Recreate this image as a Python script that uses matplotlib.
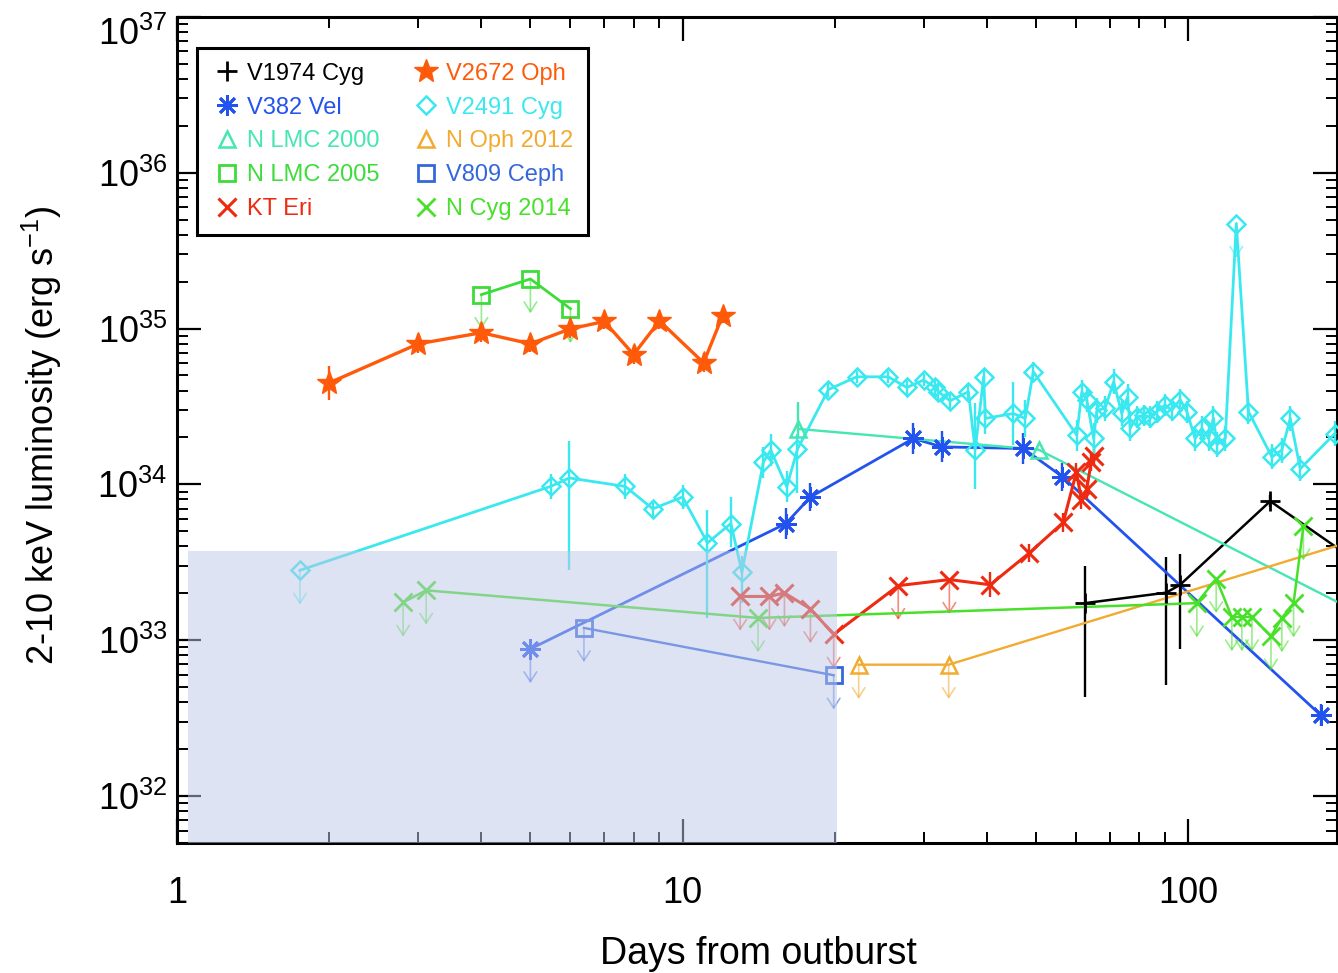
import numpy as np
import matplotlib.pyplot as plt
from matplotlib.lines import Line2D
from matplotlib.patches import Rectangle

plt.rcParams['font.family'] = ['Liberation Sans', 'DejaVu Sans']
plt.rcParams['mathtext.fontset'] = 'custom'
plt.rcParams['mathtext.rm'] = 'Liberation Sans'
plt.rcParams['mathtext.it'] = 'Liberation Sans:italic'

# ---- data (days from outburst, 2-10 keV luminosity in erg/s) ----
# errors are in dex (up, down); ul = upper limit
v1974_days = [62.5, 90.5, 96.4, 145.3, 250]
v1974_lum = [1.73e33, 2.02e33, 2.27e33, 7.8e33, 2.29e33]
v1974_up = [0.24, 0.23, 0.20, 0.04, 0.0]
v1974_dn = [0.60, 0.59, 0.41, 0.04, 0.0]
v1974_ul = [0, 0, 0, 0, 0]

v382_days = [5.0, 16.0, 17.9, 28.6, 32.6, 47.2, 56.4, 183]
v382_lum = [8.8e32, 5.6e33, 8.3e33, 1.97e34, 1.74e34, 1.7e34, 1.12e34, 3.3e32]
v382_up = [0, 0.10, 0.09, 0.10, 0.10, 0.10, 0.09, 0.07]
v382_dn = [0, 0.10, 0.09, 0.10, 0.10, 0.10, 0.09, 0.07]
v382_ul = [1, 0, 0, 0, 0, 0, 0, 0]

nlmc00_days = [16.9, 50.6, 300]
nlmc00_lum = [2.27e34, 1.67e34, 8.8e32]
nlmc00_up = [0.17, 0.0, 0.0]
nlmc00_dn = [0.05, 0.0, 0.0]
nlmc00_ul = [0, 0, 0]

nlmc05_days = [4, 5, 6]
nlmc05_lum = [1.65e35, 2.08e35, 1.34e35]
nlmc05_up = [0, 0, 0]
nlmc05_dn = [0, 0, 0]
nlmc05_ul = [1, 1, 1]

kteri_days = [13.0, 14.85, 15.9, 17.9, 19.9, 26.7, 33.7, 40.6, 48.5, 56.6,
              60.1, 61.5, 63.0, 64.3, 65.0]
kteri_lum = [1.91e33, 1.91e33, 2.01e33, 1.59e33, 1.09e33, 2.24e33, 2.45e33,
             2.27e33, 3.63e33, 5.7e33, 1.2e34, 7.98e33, 9.3e33, 1.4e34, 1.51e34]
kteri_up = [0, 0, 0, 0, 0, 0, 0, 0.08, 0.06, 0.06, 0.06, 0.06, 0.06, 0.06, 0.06]
kteri_dn = [0, 0, 0, 0, 0, 0, 0, 0.08, 0.06, 0.06, 0.06, 0.06, 0.06, 0.06, 0.06]
kteri_ul = [1, 1, 1, 1, 1, 1, 1, 0, 0, 0, 0, 0, 0, 0, 0]

v2672_days = [2, 3, 4, 5, 6, 7, 8, 9, 11, 12]
v2672_lum = [4.48e34, 7.98e34, 9.4e34, 7.98e34, 9.96e34, 1.11e35, 6.81e34,
             1.12e35, 6.03e34, 1.21e35]
v2672_up = [0.11, 0.06, 0.06, 0.05, 0.06, 0.05, 0.06, 0.05, 0.06, 0.05]
v2672_dn = [0.11, 0.06, 0.06, 0.05, 0.06, 0.05, 0.06, 0.05, 0.06, 0.05]
v2672_ul = [0] * 10

v2491_days = [1.75, 5.49, 5.97, 7.70, 8.73, 10.0, 11.2, 12.46, 13.1, 14.45,
              14.94, 16.07, 16.87, 19.43, 22.1, 25.5, 27.77, 29.96, 31.6, 32.07,
              33.8, 36.76, 37.9, 39.4, 39.7, 45.1, 47.6, 49.4, 60.2, 61.6,
              63.0, 65.0, 66.0, 68.5, 71.2, 73.9, 75.9, 76.8, 79.1, 81.6,
              84.1, 86.7, 90.0, 92.8, 96.4, 99.4, 103.2, 106.4, 109.7, 112.2,
              114.0, 118.4, 124.5, 131.6, 146.4, 153.2, 159.2, 166.6, 195.0]
v2491_lum = [2.81e33, 9.72e33, 1.10e34, 9.7e33, 6.97e33, 8.3e33, 4.21e33, 5.61e33, 2.74e33, 1.39e34,
             1.66e34, 9.64e33, 1.68e34, 4.06e34, 4.9e34, 4.9e34, 4.19e34, 4.67e34, 4.19e34, 3.93e34,
             3.44e34, 3.93e34, 1.66e34, 4.9e34, 2.65e34, 2.85e34, 2.65e34, 5.28e34, 2.07e34, 3.91e34,
             3.5e34, 1.97e34, 2.99e34, 3.07e34, 4.55e34, 2.85e34, 3.65e34, 2.29e34, 2.71e34, 2.77e34,
             2.71e34, 2.93e34, 3.23e34, 2.99e34, 3.5e34, 2.93e34, 1.97e34, 2.29e34, 1.97e34, 2.65e34,
             1.8e34, 1.97e34, 4.72e35, 2.93e34, 1.5e34, 1.66e34, 2.65e34, 1.26e34, 2.12e34]
v2491_up = [0, 0.08, 0.24, 0.08, 0.05, 0.08, 0.21, 0.17, 0.10, 0.10,
            0.10, 0.10, 0.10, 0.05, 0.04, 0.04, 0.05, 0.04, 0.05, 0.05,
            0.05, 0.05, 0.30, 0.05, 0.10, 0.20, 0.12, 0.06, 0.10, 0.08,
            0.08, 0.10, 0.08, 0.08, 0.08, 0.08, 0.08, 0.08, 0.07, 0.07,
            0.07, 0.07, 0.07, 0.07, 0.07, 0.07, 0.08, 0.08, 0.08, 0.08,
            0.08, 0.08, 0, 0.08, 0.08, 0.08, 0.08, 0.08, 0.08]
v2491_dn = [0, 0.08, 0.59, 0.08, 0.05, 0.08, 0.48, 0.15, 0.20, 0.10,
            0.10, 0.10, 0.28, 0.05, 0.04, 0.04, 0.05, 0.04, 0.05, 0.05,
            0.05, 0.05, 0.25, 0.05, 0.10, 0.20, 0.12, 0.06, 0.10, 0.08,
            0.08, 0.10, 0.08, 0.08, 0.08, 0.08, 0.08, 0.08, 0.07, 0.07,
            0.07, 0.07, 0.07, 0.07, 0.07, 0.07, 0.08, 0.08, 0.08, 0.08,
            0.08, 0.08, 0, 0.08, 0.08, 0.08, 0.08, 0.08, 0.08]
v2491_ul = [1] + [0] * 51 + [1] + [0] * 6

noph_days = [22.3, 33.6, 300]
noph_lum = [6.97e32, 6.97e32, 6.13e33]
noph_up = [0, 0, 0]
noph_dn = [0, 0, 0]
noph_ul = [1, 1, 0]

v809_days = [6.38, 19.9]
v809_lum = [1.2e33, 5.96e32]
v809_up = [0, 0]
v809_dn = [0, 0]
v809_ul = [1, 1]

ncyg_days = [2.80, 3.11, 14.1, 104, 113.6, 122, 127.7, 133.7, 145.8, 153.2, 161.6, 169]
ncyg_lum = [1.75e33, 2.09e33, 1.39e33, 1.73e33, 2.48e33, 1.41e33, 1.41e33,
            1.41e33, 1.06e33, 1.39e33, 1.73e33, 5.4e33]
ncyg_up = [0] * 12
ncyg_dn = [0] * 12
ncyg_ul = [1] * 12

# shaded region: days and luminosity bounds
shade_days = [1.05, 20.2]
shade_lum_top = 3.73e33

y_ticks = [1e32, 1e33, 1e34, 1e35, 1e36, 1e37]
x_ticks = [1, 10, 100]
x_ticklabels = ['1', '10', '100']

ASTER = (8, 2, 0)

# name, days, lum, up, dn, ul, color, marker, ms, mew, filled, lw
series = [
    ('V1974 Cyg', v1974_days, v1974_lum, v1974_up, v1974_dn, v1974_ul, 'black', '+', 14, 2.0, False, 1.8),
    ('V382 Vel', v382_days, v382_lum, v382_up, v382_dn, v382_ul, '#2353ee', ASTER, 15, 2.0, False, 2.0),
    ('N LMC 2000', nlmc00_days, nlmc00_lum, nlmc00_up, nlmc00_dn, nlmc00_ul, '#45e6b2', '^', 11, 1.8, False, 1.7),
    ('N LMC 2005', nlmc05_days, nlmc05_lum, nlmc05_up, nlmc05_dn, nlmc05_ul, '#3ddc3a', 's', 11, 2.0, False, 2.0),
    ('KT Eri', kteri_days, kteri_lum, kteri_up, kteri_dn, kteri_ul, '#ee2a10', 'x', 13, 2.2, False, 2.2),
    ('V2672 Oph', v2672_days, v2672_lum, v2672_up, v2672_dn, v2672_ul, '#ff5a0a', '*', 18, 1.0, True, 2.4),
    ('V2491 Cyg', v2491_days, v2491_lum, v2491_up, v2491_dn, v2491_ul, '#3ae8f0', 'D', 9, 1.8, False, 2.0),
    ('N Oph 2012', noph_days, noph_lum, noph_up, noph_dn, noph_ul, '#f2aa30', '^', 11, 1.8, False, 1.7),
    ('V809 Ceph', v809_days, v809_lum, v809_up, v809_dn, v809_ul, '#3466dc', 's', 11, 2.0, False, 1.7),
    ('N Cyg 2014', ncyg_days, ncyg_lum, ncyg_up, ncyg_dn, ncyg_ul, '#48e02a', 'x', 13, 2.0, False, 1.8),
]

fig = plt.figure(figsize=(13.38, 9.73), dpi=100)
ax = fig.add_axes([0.1323, 0.1336, 0.867, 0.8491])
ax.set_xscale('log')
ax.set_yscale('log')

UL_DEX = 0.22
for name, d, l, up, dn, ul, c, m, ms, mew, filled, lw in series:
    d = np.array(d, float)
    l = np.array(l, float)
    up = np.array(up, float)
    dn = np.array(dn, float)
    ul = np.array(ul, bool)
    ax.plot(d, l, '-', color=c, lw=lw, zorder=3)
    det = (~ul) & ((up > 0) | (dn > 0))
    if det.any():
        yerr = [l[det] - l[det] * 10 ** -dn[det], l[det] * 10 ** up[det] - l[det]]
        ax.errorbar(d[det], l[det], yerr=yerr, fmt='none', ecolor=c, elinewidth=1.7, capsize=0, zorder=3)
    ax.plot(d, l, ls='none', marker=m, ms=ms, mew=mew, color=c,
            mfc=c if filled else 'none', mec=c, zorder=4, clip_on=True)
    for xi, yi in zip(d[ul], l[ul]):
        ax.annotate('', xy=(xi, yi * 10 ** -UL_DEX), xytext=(xi, yi),
                    arrowprops=dict(arrowstyle='->,head_width=0.45,head_length=0.7',
                                    color=c, lw=1.2, alpha=0.55, shrinkA=0, shrinkB=0),
                    zorder=3)

ax.add_patch(Rectangle((shade_days[0], 1e31), shade_days[1] - shade_days[0],
                       shade_lum_top - 1e31, facecolor='#bec8e8', alpha=0.5,
                       edgecolor='none', zorder=10))

ax.set_xlim(1, 197)
ax.set_ylim(5e31, 1e37)

ax.set_xticks(x_ticks)
ax.set_xticklabels(x_ticklabels)
ax.set_yticks(y_ticks)
ax.tick_params(which='both', direction='in', top=True, right=True)
ax.tick_params(which='major', length=17, width=1.6, labelsize=26)
ax.tick_params(which='minor', length=8, width=1.4)
ax.tick_params(axis='x', which='major', pad=24)
ax.tick_params(axis='y', which='major', pad=7)
for s in ax.spines.values():
    s.set_linewidth(2.2)

# keep the top label inside the figure, as in the original
ax.get_yticklabels()[-1].set_verticalalignment('top')

ax.set_xlabel('Days from outburst', fontsize=27)
ax.set_ylabel('2-10 keV luminosity (erg s$^{-1}$)', fontsize=26)
ax.xaxis.set_label_coords(0.5013, -0.112)
ax.yaxis.set_label_coords(-0.097, 0.494)

handles = []
for name, d, l, up, dn, ul, c, m, ms, mew, filled, lw in series:
    handles.append(Line2D([], [], ls='none', marker=m, ms=ms, mew=mew, color=c,
                          mfc=c if filled else 'none', mec=c))
leg = ax.legend(handles, [s[0] for s in series], ncol=2, loc='upper left',
                bbox_to_anchor=(0.0173, 0.9622), fontsize=17, frameon=True,
                fancybox=False, edgecolor='black', framealpha=1, borderpad=0.62,
                labelspacing=0.5, handlelength=1.3, handletextpad=0.2,
                columnspacing=1.3, borderaxespad=0)
leg.get_frame().set_linewidth(2.2)
leg.set_zorder(20)
for t, s in zip(leg.get_texts(), series):
    t.set_color(s[6])

fig.savefig('out.png', dpi=100)
